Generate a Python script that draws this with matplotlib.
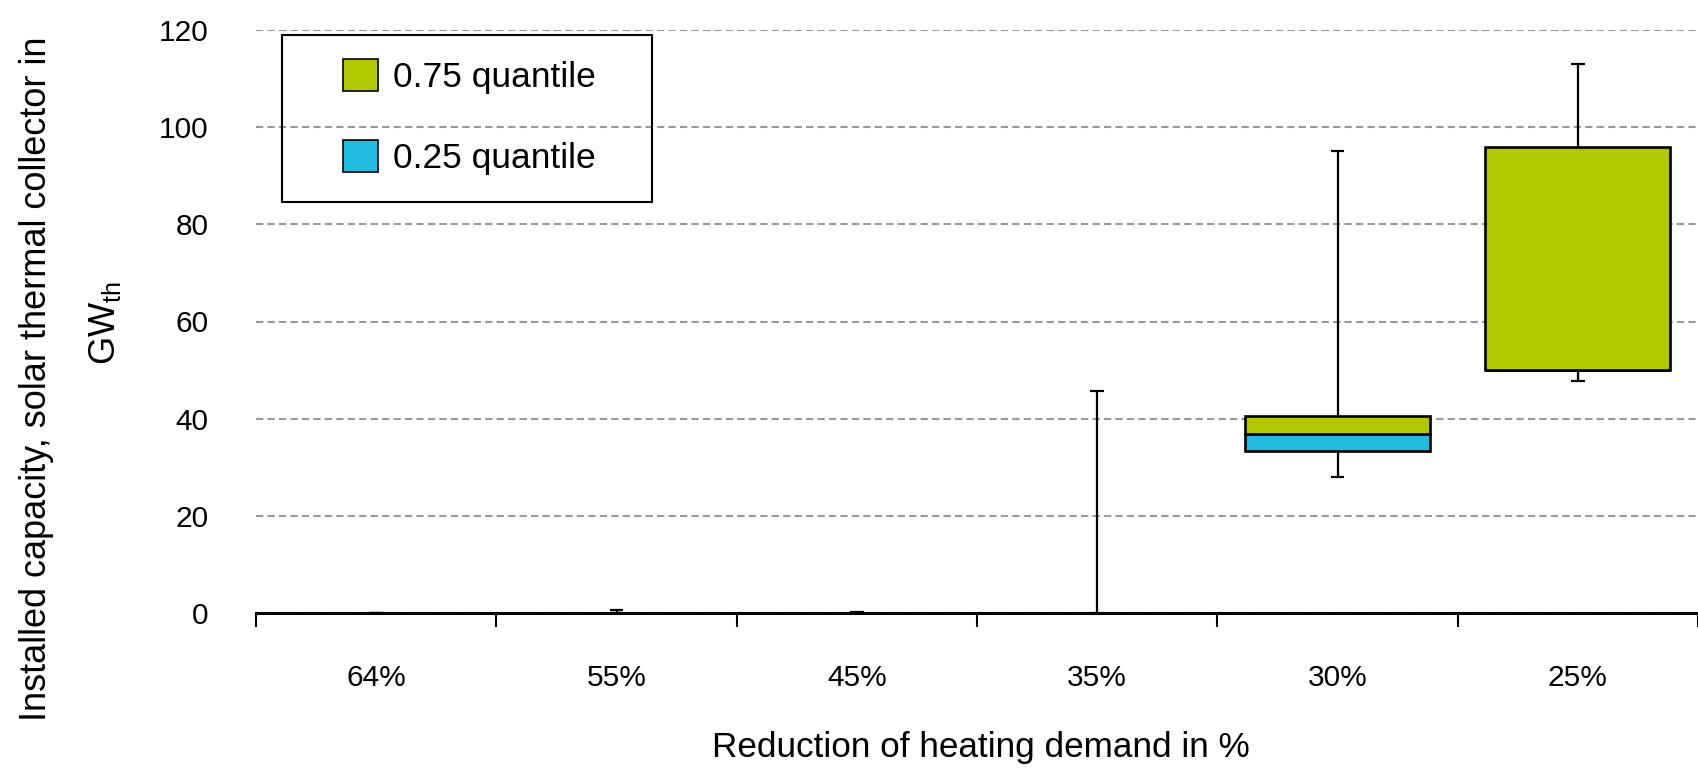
import numpy as np
import matplotlib.pyplot as plt
from matplotlib.patches import Patch, Rectangle

plt.rcParams['font.family'] = ['Liberation Sans', 'DejaVu Sans']

categories = ['64%', '55%', '45%', '35%', '30%', '25%']
whisker_min = [0, 0, 0, 0, 27.9, 47.8]
q1 = [0, 0, 0, 0, 33.4, 50.0]
median = [0, 0, 0, 0.05, 36.9, 50.0]
q3 = [0, 0.05, 0.02, 0.1, 40.6, 96.0]
whisker_max = [0, 0.6, 0.2, 45.7, 95.1, 113.0]

green = '#b2c700'
blue = '#23bae0'

W, H = 1698, 768
fig = plt.figure(figsize=(W / 100, H / 100), dpi=100)
ax = fig.add_axes([256 / W, 155 / H, 1 - 256 / W, (613 - 30) / H])

x = np.arange(len(categories))
q1 = np.array(q1)
median = np.array(median)
q3 = np.array(q3)

# whiskers and caps
ax.vlines(x, whisker_min, q1, color='black', lw=1.6, zorder=2)
ax.vlines(x, q3, whisker_max, color='black', lw=1.6, zorder=2)
ax.hlines(whisker_min, x - 0.029, x + 0.029, color='black', lw=1.6, zorder=2)
ax.hlines(whisker_max, x - 0.029, x + 0.029, color='black', lw=1.6, zorder=2)

# stacked box: lower half blue, upper half green
ax.bar(x, median - q1, bottom=q1, width=0.77, color=blue,
       edgecolor='black', lw=1.9, zorder=3)
ax.bar(x, q3 - median, bottom=median, width=0.77, color=green,
       edgecolor='black', lw=1.9, zorder=3)

ax.set_ylim(0, 120)
ax.set_xlim(-0.5, 5.47)
ax.set_axisbelow(True)
ax.yaxis.grid(True, ls=(0, (3.5, 2)), color='#999999', lw=1.5)
for s in ['top', 'right', 'left']:
    ax.spines[s].set_visible(False)
ax.spines['bottom'].set_linewidth(2.2)

ax.set_yticks(range(0, 121, 20))
ax.tick_params(axis='y', length=0, pad=34, labelsize=21.5)

ax.set_xticks(np.arange(-0.5, 6, 1))
ax.set_xticklabels([])
ax.tick_params(axis='x', which='major', length=10, width=1.5, direction='out')
ax.set_xticks(x, minor=True)
ax.set_xticklabels(categories, minor=True)
ax.tick_params(axis='x', which='minor', length=0, pad=37, labelsize=21.5)

fig.text(981 / W, 1 - 747 / H, 'Reduction of heating demand in %',
         ha='center', va='center', fontsize=25.3)
fig.text(37 / W, 1 - 379 / H, 'Installed capacity, solar thermal collector in',
         ha='center', va='center', rotation=90, fontsize=26)
fig.text(105 / W, 1 - 323 / H, r'GW$_{\mathregular{th}}$',
         ha='center', va='center', rotation=90, fontsize=26)

# legend frame and entries
fig.add_artist(Rectangle((282 / W, 1 - 201.7 / H), (652 - 282) / W, (201.7 - 35) / H,
                         transform=fig.transFigure, fill=False, lw=1.5,
                         edgecolor='black'))
handles = [Patch(facecolor=green, edgecolor='black', lw=1.2, label='0.75 quantile'),
           Patch(facecolor=blue, edgecolor='black', lw=1.2, label='0.25 quantile')]
fig.legend(handles=handles, loc='upper left', bbox_to_anchor=(343 / W, 1 - 59 / H),
           frameon=False, fontsize=25.5, handlelength=1.0, handleheight=1.0,
           handletextpad=0.42, labelspacing=1.3, borderpad=0, borderaxespad=0)

fig.savefig('out.png', dpi=100)
